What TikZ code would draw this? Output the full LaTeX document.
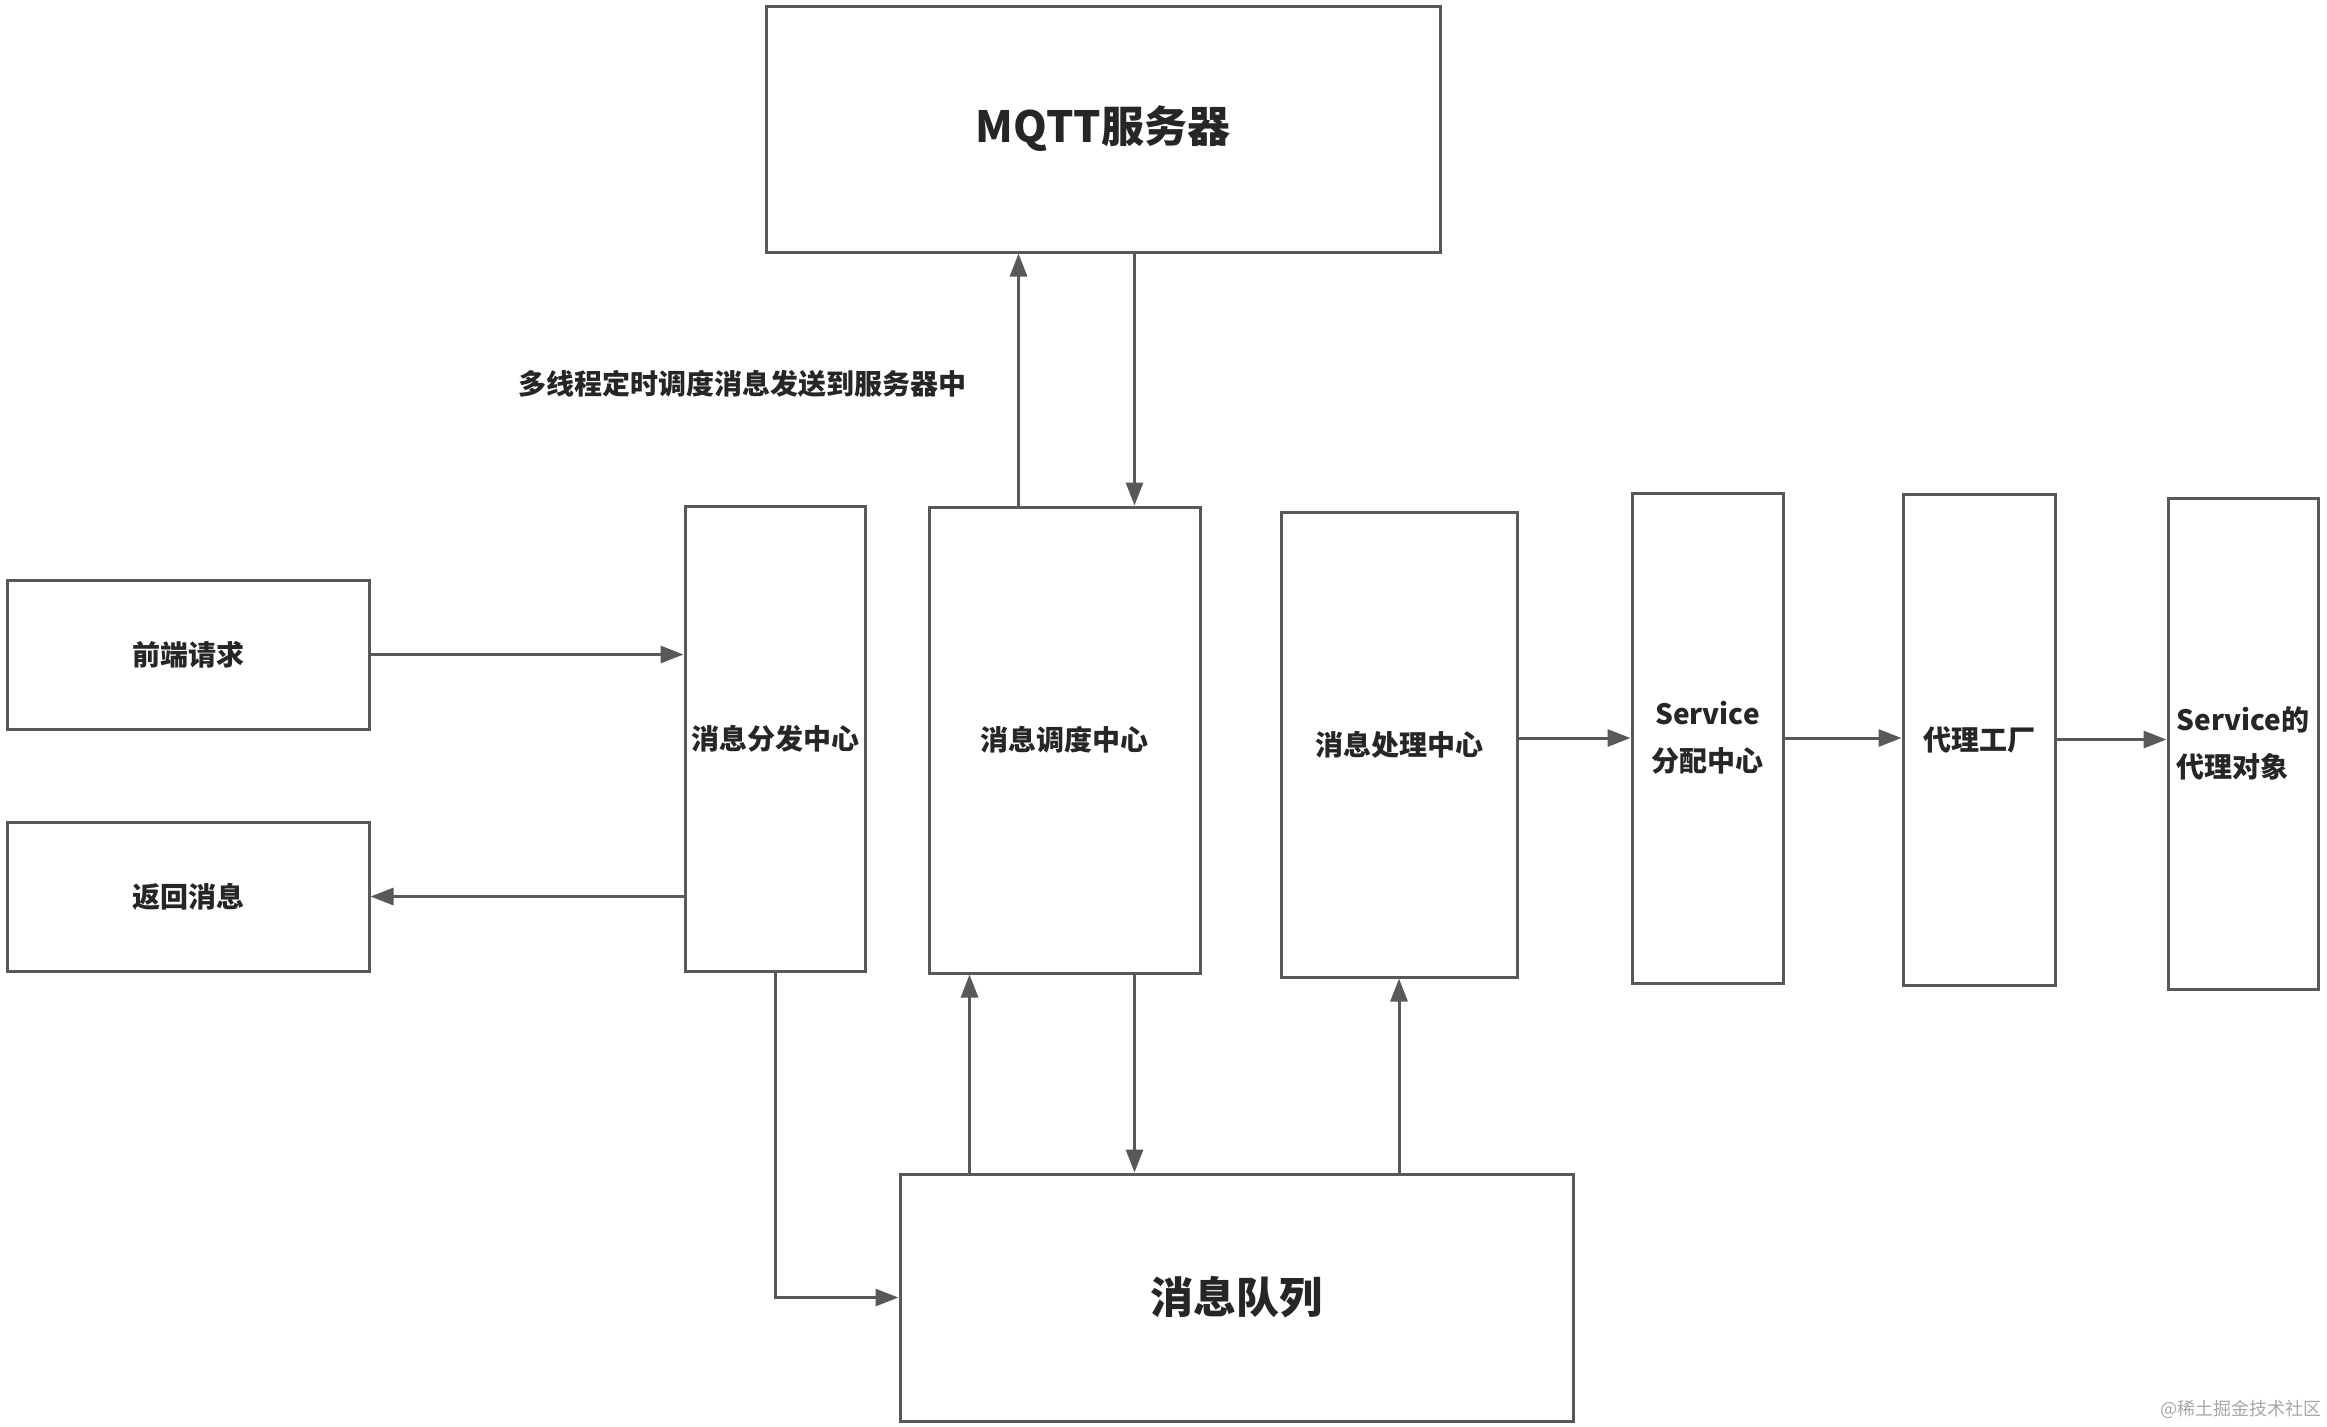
\documentclass[tikz,border=0pt]{standalone}
\usepackage{fontspec}
\setmainfont{Noto Sans CJK SC}
\usetikzlibrary{arrows.meta,calc}
\definecolor{linegray}{HTML}{595959}
\definecolor{textgray}{HTML}{262626}

\begin{document}
\begin{tikzpicture}[x=0.5pt, y=-0.5pt,
	box/.style={shape=rectangle, draw=linegray, line width=1.5pt, inner sep=0pt, text=textgray, font=\bfseries\fontsize{14pt}{23.5pt}\selectfont},
	big/.style={font=\bfseries\fontsize{21.5pt}{26pt}\selectfont},
	flow/.style={-{Triangle[length=11.5pt, width=8.5pt]}, draw=linegray, line width=1.5pt}]
	\useasboundingbox (0,0) rectangle (2327,1426);

	\node[box, big, minimum width=337pt,   minimum height=123pt]   (mqtt)     at (1103,129)    {MQTT服务器};
	\node[box,      minimum width=181pt,   minimum height=74.5pt]  (req)      at (188,654.5)   {前端请求};
	\node[box,      minimum width=181pt,   minimum height=74.5pt]  (ret)      at (188,896.5)   {返回消息};
	\node[box,      minimum width=90pt,    minimum height=232.5pt] (dispatch) at (775,738.5)   {消息分发中心};
	\node[box,      minimum width=135.5pt, minimum height=233pt]   (sched)    at (1064.5,740)  {消息调度中心};
	\node[box,      minimum width=118pt,   minimum height=232.5pt] (proc)     at (1399,744.5)  {消息处理中心};
	\node[box, align=center, minimum width=75.5pt, minimum height=245pt] (svc) at (1707.5,738) {Service\\分配中心};
	\node[box,      minimum width=76pt,    minimum height=245.5pt] (factory)  at (1979,739.5)  {代理工厂};
	\node[box, align=left, minimum width=75pt, minimum height=245.5pt] (proxy) at (2243,743.5) {Service的\\代理对象};
	\node[box, big, minimum width=336.5pt, minimum height=123.5pt] (queue)    at (1236.5,1297.5) {消息队列};

	\node[text=textgray, font=\bfseries\fontsize{14pt}{17pt}\selectfont] (note) at (742,384) {多线程定时调度消息发送到服务器中};
	\node[text=black!35, font=\fontsize{9pt}{11pt}\selectfont] (mark) at (2241,1409) {@稀土掘金技术社区};

	\coordinate (up1) at ($(sched.north)+(-46,0)$);
	\coordinate (dn1) at ($(sched.north)+(70,0)$);
	\coordinate (up2) at ($(sched.south)+(-95,0)$);
	\coordinate (dn2) at ($(sched.south)+(70,0)$);

	\draw[flow] (req.east) -- (req.east -| dispatch.west);
	\draw[flow] (dispatch.west |- ret.east) -- (ret.east);
	\draw[flow] (up1) -- (up1 |- mqtt.south);
	\draw[flow] (dn1 |- mqtt.south) -- (dn1);
	\draw[flow] (dispatch.south) |- (queue.west);
	\draw[flow] (up2 |- queue.north) -- (up2);
	\draw[flow] (dn2) -- (dn2 |- queue.north);
	\draw[flow] (proc.south |- queue.north) -- (proc.south);
	\draw[flow] (proc.east |- svc.west) -- (svc.west);
	\draw[flow] (svc.east) -- (svc.east -| factory.west);
	\draw[flow] (factory.east) -- (factory.east -| proxy.west);
\end{tikzpicture}
\end{document}
